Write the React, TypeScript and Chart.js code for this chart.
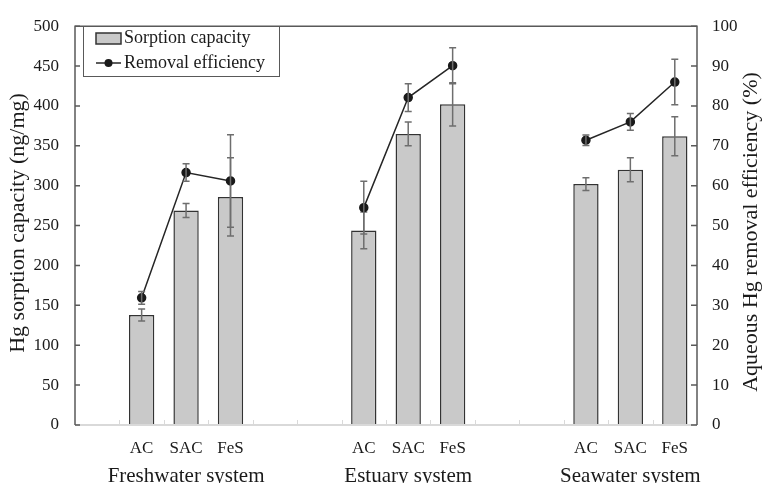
import React, { useEffect, useRef } from "react";
import { Chart, registerables } from "chart.js";

Chart.register(...registerables);

const categories = ["", "AC", "SAC", "FeS", "", "", "AC", "SAC", "FeS", "", "", "AC", "SAC", "FeS"];
const groupLabels = ["Freshwater system", "Estuary system", "Seawater system"];
const groupCenterIndex = [2, 7, 12];
const capacity = [null, 138, 269, 286, null, null, 244, 365, 402, null, null, 302, 320, 362];
const capacityErr = [null, 7.5, 8.7, 49, null, null, 23, 15, 27, null, null, 8, 15, 24.5];
const efficiency = [null, 31.9, 63.3, 61.2, null, null, 54.5, 82.1, 90.1, null, null, 71.4, 76.0, 86.0];
const efficiencyErr = [null, 1.6, 2.2, 11.6, null, null, 6.6, 3.5, 4.5, null, null, 1.3, 2.1, 5.7];
const leftTicks = [0, 50, 100, 150, 200, 250, 300, 350, 400, 450, 500];
const rightTicks = [0, 10, 20, 30, 40, 50, 60, 70, 80, 90, 100];

const FONT = "'Liberation Serif', 'Times New Roman', serif";
const AXIS_DARK = "#595959";
const BAR_FILL = "#c9c9c9";
const ERR_COLOR = "#6e6e6e";

const errorBarsPlugin = {
  id: "errorBars",
  afterDatasetDraw(chart: any, args: any) {
    const ctx = chart.ctx;
    const idx = args.index;
    const meta = chart.getDatasetMeta(idx);
    const errs = idx === 0 ? capacityErr : efficiencyErr;
    const vals = idx === 0 ? capacity : efficiency;
    const scale = chart.scales[idx === 0 ? "y" : "y2"];
    ctx.save();
    ctx.strokeStyle = ERR_COLOR;
    ctx.lineWidth = 1.5;
    meta.data.forEach((el: any, i: number) => {
      const v = vals[i];
      const e = errs[i];
      if (v == null || e == null) return;
      const x = el.x;
      const yt = scale.getPixelForValue(v + e);
      const yb = scale.getPixelForValue(v - e);
      ctx.beginPath();
      ctx.moveTo(x, yt);
      ctx.lineTo(x, yb);
      ctx.moveTo(x - 3.5, yt);
      ctx.lineTo(x + 3.5, yt);
      ctx.moveTo(x - 3.5, yb);
      ctx.lineTo(x + 3.5, yb);
      ctx.stroke();
    });
    ctx.restore();
  },
};

const decorPlugin = {
  id: "decor",
  afterDraw(chart: any) {
    const ctx = chart.ctx;
    const { left, right, top, bottom } = chart.chartArea;
    const yL = chart.scales.y;
    const yR = chart.scales.y2;
    const xS = chart.scales.x;
    ctx.save();
    // bottom axis
    ctx.strokeStyle = "#d9d9d9";
    ctx.lineWidth = 2;
    ctx.beginPath();
    ctx.moveTo(left, bottom);
    ctx.lineTo(right, bottom);
    ctx.stroke();
    // x tick marks at boundaries
    ctx.lineWidth = 1;
    const step = (right - left) / categories.length;
    ctx.beginPath();
    for (let k = 1; k < categories.length; k++) {
      const x = Math.round(left + step * k) + 0.5;
      ctx.moveTo(x, bottom);
      ctx.lineTo(x, bottom - 5);
    }
    ctx.stroke();
    // box lines
    ctx.strokeStyle = AXIS_DARK;
    ctx.lineWidth = 1.5;
    ctx.beginPath();
    ctx.moveTo(left, bottom);
    ctx.lineTo(left, top);
    ctx.lineTo(right, top);
    ctx.lineTo(right, bottom);
    ctx.stroke();
    // inner ticks
    ctx.beginPath();
    leftTicks.forEach((t) => {
      const y = yL.getPixelForValue(t);
      ctx.moveTo(left, y);
      ctx.lineTo(left + 5, y);
    });
    rightTicks.forEach((t) => {
      const y = yR.getPixelForValue(t);
      ctx.moveTo(right, y);
      ctx.lineTo(right - 6, y);
    });
    ctx.stroke();

    // x labels
    ctx.fillStyle = "#1a1a1a";
    ctx.textAlign = "center";
    ctx.textBaseline = "alphabetic";
    ctx.font = `17px ${FONT}`;
    categories.forEach((c, i) => {
      if (!c) return;
      ctx.fillText(c, xS.getPixelForValue(i), 453);
    });
    ctx.font = `21px ${FONT}`;
    groupLabels.forEach((g, i) => {
      ctx.fillText(g, xS.getPixelForValue(groupCenterIndex[i]), 482);
    });

    // axis titles
    ctx.font = `22px ${FONT}`;
    ctx.textBaseline = "middle";
    ctx.save();
    ctx.translate(18, 223);
    ctx.rotate(-Math.PI / 2);
    ctx.fillText("Hg sorption capacity (ng/mg)", 0, 0);
    ctx.restore();
    ctx.save();
    ctx.translate(751, 232);
    ctx.rotate(-Math.PI / 2);
    ctx.fillText("Aqueous Hg removal efficiency (%)", 0, 0);
    ctx.restore();

    // legend
    ctx.fillStyle = "#ffffff";
    ctx.fillRect(83, 26, 196, 50);
    ctx.strokeStyle = AXIS_DARK;
    ctx.lineWidth = 1;
    ctx.strokeRect(83.5, 26.5, 196, 50);
    ctx.fillStyle = BAR_FILL;
    ctx.fillRect(96, 33, 25, 11);
    ctx.strokeStyle = "#333333";
    ctx.lineWidth = 1.5;
    ctx.strokeRect(96, 33, 25, 11);
    ctx.strokeStyle = "#262626";
    ctx.beginPath();
    ctx.moveTo(96, 63);
    ctx.lineTo(121, 63);
    ctx.stroke();
    ctx.fillStyle = "#1a1a1a";
    ctx.beginPath();
    ctx.arc(108.5, 63, 4, 0, Math.PI * 2);
    ctx.fill();
    ctx.font = `18px ${FONT}`;
    ctx.textAlign = "left";
    ctx.textBaseline = "middle";
    ctx.fillText("Sorption capacity", 124, 38);
    ctx.fillText("Removal efficiency", 124, 63);
    ctx.restore();
  },
};

export default function App() {
  const ref = useRef<HTMLCanvasElement>(null);
  useEffect(() => {
    document.body.style.margin = "0";
    const chart = new Chart(ref.current as HTMLCanvasElement, {
      type: "bar",
      data: {
        labels: categories,
        datasets: [
          {
            type: "bar",
            label: "Sorption capacity",
            data: capacity as any,
            yAxisID: "y",
            backgroundColor: BAR_FILL,
            borderColor: "#333333",
            borderWidth: 1.5,
            barPercentage: 0.57,
            categoryPercentage: 1,
            order: 2,
          },
          {
            type: "line",
            label: "Removal efficiency",
            data: efficiency as any,
            yAxisID: "y2",
            borderColor: "#262626",
            borderWidth: 1.5,
            pointBackgroundColor: "#1a1a1a",
            pointBorderColor: "#1a1a1a",
            pointRadius: 4,
            spanGaps: false,
            order: 1,
          },
        ] as any,
      },
      options: {
        animation: false,
        responsive: false,
        maintainAspectRatio: false,
        layout: { padding: { top: 20, left: 0, right: 0, bottom: 0 } },
        plugins: { legend: { display: false }, tooltip: { enabled: false } },
        scales: {
          x: {
            grid: { display: false },
            border: { display: false },
            ticks: { display: false },
            afterFit: (s: any) => {
              s.height = 58;
            },
          },
          y: {
            position: "left",
            min: 0,
            max: 500,
            ticks: { stepSize: 50, color: "#1a1a1a", padding: 16, font: { family: FONT, size: 17 } },
            grid: { display: false, drawTicks: false },
            border: { display: false },
            afterFit: (s: any) => {
              s.width = 75;
            },
          },
          y2: {
            position: "right",
            min: 0,
            max: 100,
            ticks: { stepSize: 10, color: "#1a1a1a", padding: 15, font: { family: FONT, size: 17 } },
            grid: { display: false, drawTicks: false },
            border: { display: false },
            afterFit: (s: any) => {
              s.width = 69;
            },
          },
        },
      } as any,
      plugins: [errorBarsPlugin, decorPlugin],
    });
    return () => chart.destroy();
  }, []);
  return (
    <div style={{ width: 766, height: 483 }}>
      <canvas ref={ref} width={766} height={483} style={{ display: "block" }} />
    </div>
  );
}
